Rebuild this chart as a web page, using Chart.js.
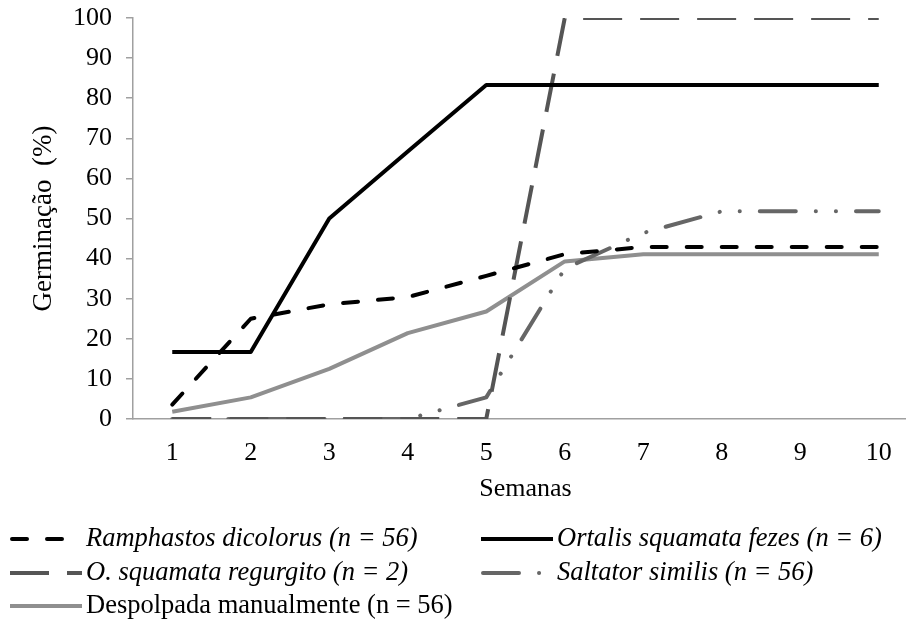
<!DOCTYPE html>
<html>
<head>
<meta charset="utf-8">
<script src="https://cdn.jsdelivr.net/npm/chart.js@4.4.1/dist/chart.umd.min.js"></script>
<style>
  html, body { margin: 0; padding: 0; background: #fff; overflow: hidden; }
  #wrap { width: 930px; height: 619px; }
</style>
</head>
<body>
<div id="wrap"><canvas id="chart" width="930" height="619"></canvas></div>
<script>
// weeks on the x axis
const weeks = ["1","2","3","4","5","6","7","8","9","10"];

// germination (%) per week
const ramphastos = [3.6, 25, 28.6, 30.4, 35.7, 41.1, 42.9, 42.9, 42.9, 42.9];
const ortalisFezes = [16.7, 16.7, 50, 66.7, 83.3, 83.3, 83.3, 83.3, 83.3, 83.3];
const regurgito = [0, 0, 0, 0, 0, 100, 100, 100, 100, 100];
const saltator = [0, 0, 0, 0, 5.4, 37.5, 46.4, 51.8, 51.8, 51.8];
const despolpada = [1.8, 5.4, 12.5, 21.4, 26.8, 39.3, 41.1, 41.1, 41.1, 41.1];

const yTicks = [0, 10, 20, 30, 40, 50, 60, 70, 80, 90, 100];

const SERIF = "'Liberation Serif', 'Times New Roman', serif";

function line(label, data, color, width, dash, cap, italic) {
  return {
    label, data,
    borderColor: color,
    backgroundColor: color,
    borderWidth: width,
    borderDash: dash,
    borderCapStyle: cap,
    borderJoinStyle: "round",
    pointRadius: 0,
    tension: 0,
    fill: false,
    italic
  };
}

const datasets = [
  line("Ramphastos dicolorus (n = 56)", ramphastos, "#000000", 4, [15, 20], "round", true),
  line("Ortalis squamata fezes (n = 6)", ortalisFezes, "#000000", 4, [], "butt", true),
  line("O. squamata regurgito (n = 2)", regurgito, "#555555", 4, [39, 18], "butt", true),
  line("Saltator similis (n = 56)", saltator, "#666666", 4, [36, 20, 0.1, 20, 0.1, 20], "round", true),
  line("Despolpada manualmente (n = 56)", despolpada, "#8f8f8f", 4, [], "butt", false)
];

// legend drawn under the plot, two columns like the original
const legendSlots = [
  { x: 10, y: 539 }, { x: 481, y: 539 },
  { x: 10, y: 573 }, { x: 481, y: 573 },
  { x: 10, y: 606 }
];

const customLegend = {
  id: "customLegend",
  afterDraw(chart) {
    const ctx = chart.ctx;
    chart.data.datasets.forEach((ds, i) => {
      const s = legendSlots[i];
      ctx.save();
      ctx.strokeStyle = ds.borderColor;
      ctx.lineWidth = ds.borderWidth;
      ctx.lineCap = ds.borderCapStyle;
      ctx.setLineDash(ds.borderDash);
      ctx.beginPath();
      ctx.moveTo(s.x + (ds.borderCapStyle === "round" ? 2 : 0), s.y);
      ctx.lineTo(s.x + 72, s.y);
      ctx.stroke();
      ctx.setLineDash([]);
      ctx.fillStyle = "#000";
      ctx.font = (ds.italic ? "italic " : "") + "26.5px " + SERIF;
      ctx.textBaseline = "middle";
      ctx.textAlign = "left";
      ctx.fillText(ds.label, s.x + 76, s.y);
      ctx.restore();
    });
  }
};

function noOverflow(scale) {
  scale.paddingTop = 0;
  scale.paddingBottom = 0;
  scale.paddingLeft = 0;
  scale.paddingRight = 0;
}

new Chart(document.getElementById("chart"), {
  type: "line",
  data: { labels: weeks, datasets },
  options: {
    responsive: false,
    animation: false,
    layout: { padding: { left: 0, right: 12, top: 18, bottom: 114 } },
    plugins: { legend: { display: false }, tooltip: { enabled: false } },
    scales: {
      x: {
        type: "category",
        offset: true,
        grid: { display: false },
        border: { display: true, color: "#a0a0a0", width: 1.5 },
        ticks: { color: "#000", font: { family: SERIF, size: 26 }, padding: 11, maxRotation: 0 },
        title: { display: true, text: "Semanas", color: "#000", font: { family: SERIF, size: 26 }, padding: 0 },
        afterFit(scale) { scale.height = 86; noOverflow(scale); }
      },
      y: {
        min: 0, max: 100,
        afterBuildTicks(scale) { scale.ticks = yTicks.map(v => ({ value: v })); },
        grid: { display: true, drawOnChartArea: false, drawTicks: true, tickLength: 7, color: "#a0a0a0", lineWidth: 1.5 },
        border: { display: true, color: "#a0a0a0", width: 1.5 },
        ticks: { color: "#000", font: { family: SERIF, size: 26 }, padding: 14 },
        title: { display: true, text: "Germinação  (%)", color: "#000", font: { family: SERIF, size: 27 }, padding: { top: 28, bottom: 0 } },
        afterFit(scale) { scale.width = 133; noOverflow(scale); }
      }
    }
  },
  plugins: [customLegend]
});
</script>
</body>
</html>
